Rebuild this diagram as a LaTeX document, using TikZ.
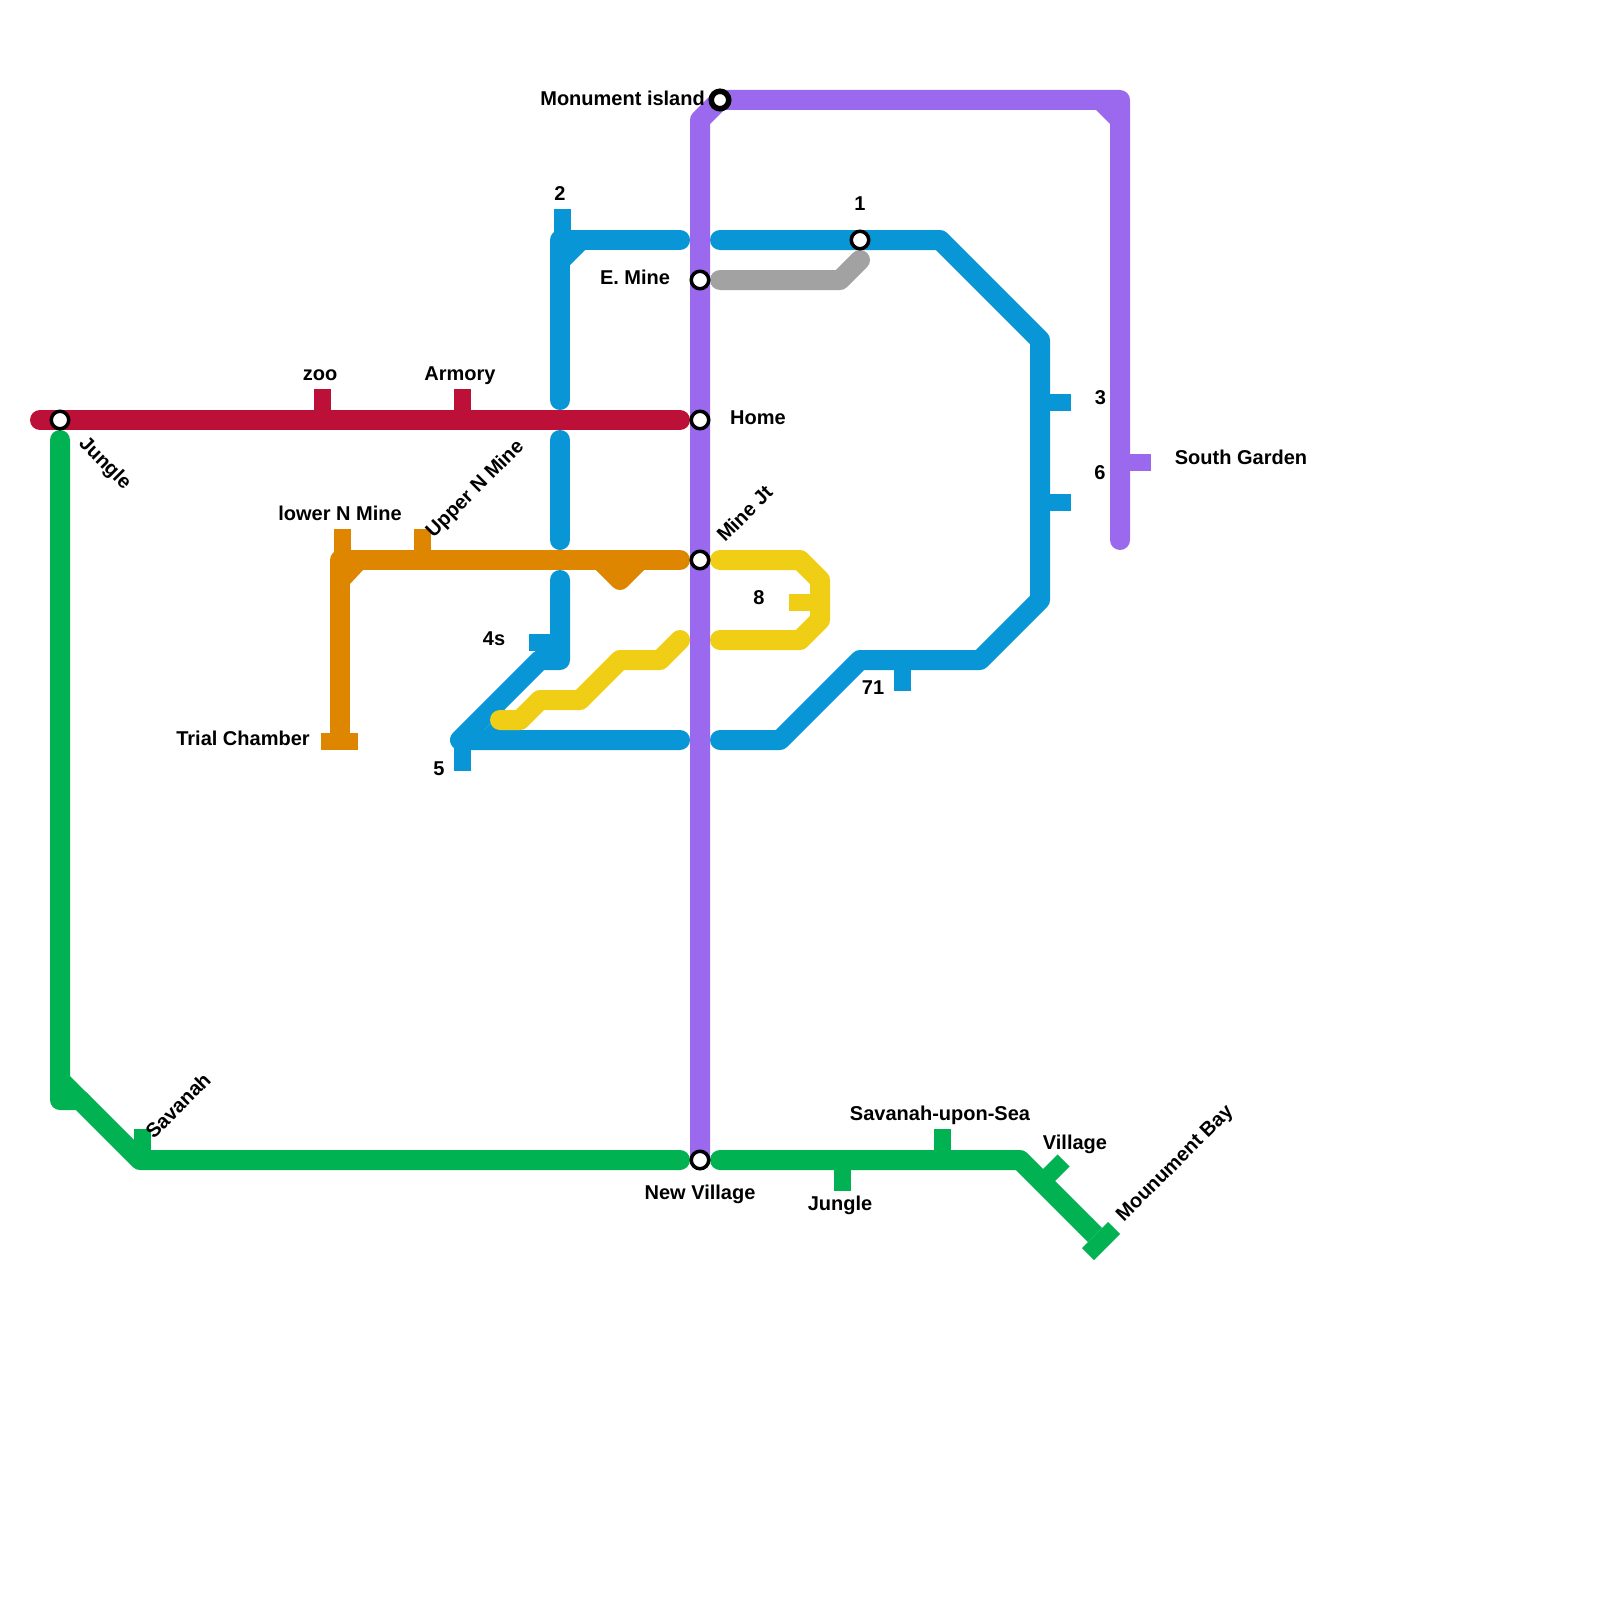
\documentclass[tikz,border=0pt]{standalone}
\usepackage{fontspec}
\setmainfont{Liberation Sans}
\definecolor{cred}{HTML}{BD1038}
\definecolor{cgreen}{HTML}{00B251}
\definecolor{cblue}{HTML}{0896D7}
\definecolor{corange}{HTML}{DF8600}
\definecolor{cyellow}{HTML}{F0CE15}
\definecolor{cpurple}{HTML}{9B69EE}
\definecolor{cgray}{HTML}{A2A2A2}
\tikzset{
  metro/.style={line width=20pt,line cap=round,line join=round},
  stub/.style={line width=17pt,line cap=butt},
  station/.style={circle,draw=black,fill=white,line width=3.5pt,minimum size=17.5pt,inner sep=0pt},
  endstation/.style={circle,draw=black,fill=white,line width=5.5pt,minimum size=17.5pt,inner sep=0pt},
  lbl/.style={font=\bfseries\fontsize{20}{24}\selectfont,inner sep=0pt,text=black}
}
\begin{document}
\begin{tikzpicture}[x=1pt,y=-1pt]
\useasboundingbox[fill=white] (0,0) rectangle (1600,1600);
% red
\draw[metro,cred] (40,420) -- (680,420);
\draw[stub,cred] (322,389) -- (322,420);
\draw[stub,cred] (462,389) -- (462,420);
% blue
\draw[metro,cblue] (680,240) -- (560,240) -- (560,400);
\fill[cblue] (585,250) -- (570,265) -- (570,250) -- cycle;
\draw[stub,cblue] (562,209) -- (562,240);
\draw[metro,cblue] (560,440) -- (560,540);
\draw[metro,cblue] (560,580) -- (560,660) -- (540,660) -- (460,740) -- (680,740);
\fill[cblue] (484,730) -- (505,709) -- (505,730) -- cycle;
\draw[stub,cblue] (529,642) -- (560,642);
\draw[stub,cblue] (462,740) -- (462,771);
\draw[metro,cblue] (720,240) -- (940,240) -- (1040,340) -- (1040,600) -- (980,660) -- (860,660) -- (780,740) -- (720,740);
\draw[stub,cblue] (1040,402) -- (1071,402);
\draw[stub,cblue] (1040,502) -- (1071,502);
\draw[stub,cblue] (902,660) -- (902,691);
% orange
\draw[metro,corange] (340,740) -- (340,560) -- (680,560);
\fill[corange] (363,570) -- (350,584) -- (350,570) -- cycle;
\draw[stub,corange] (342,529) -- (342,560);
\draw[stub,corange] (422,529) -- (422,560);
\draw[stub,corange] (321,741) -- (358,741);
\draw[metro,corange] (600,560) -- (620,580) -- (640,560);
% yellow
\draw[metro,cyellow] (720,560) -- (800,560) -- (820,580) -- (820,620) -- (800,640) -- (720,640);
\draw[stub,cyellow] (789,602) -- (820,602);
\draw[metro,cyellow] (680,640) -- (660,660) -- (620,660) -- (580,700) -- (540,700) -- (520,720) -- (500,720);
% gray
\draw[metro,cgray] (720,280) -- (840,280) -- (860,260);
% green
\draw[metro,cgreen] (60,440) -- (60,1100) -- (80,1100) -- (140,1160) -- (680,1160);
\fill[cgreen] (70,1076) -- (70,1096) -- (90,1096) -- cycle;
\draw[stub,cgreen] (142,1129) -- (142,1160);
\draw[metro,cgreen] (720,1160) -- (1020,1160) -- (1085,1225);
\draw[line width=20pt,cgreen] (1085,1225) -- (1095,1235);
\draw[stub,cgreen] (842,1160) -- (842,1191);
\draw[stub,cgreen] (942,1129) -- (942,1160);
\draw[stub,cgreen] (1042,1182) -- (1063.5,1160.5);
\draw[stub,cgreen] (1088,1254) -- (1114,1228);
% purple
\draw[metro,cpurple] (700,1160) -- (700,120) -- (720,100) -- (1120,100) -- (1120,540);
\fill[cpurple] (1096,110) -- (1110,124) -- (1110,110) -- cycle;
\draw[stub,cpurple] (1120,462) -- (1151,462);
% stations
\node[station] (sJungle) at (60,420) {};
\node[station] (sEMine) at (700,280) {};
\node[station] (sHome) at (700,420) {};
\node[station] (sMineJt) at (700,560) {};
\node[station] (sNewVillage) at (700,1160) {};
\node[station] (sOne) at (860,240) {};
\node[endstation] (sMonument) at (720,100) {};
% labels
\node[lbl,anchor=east] (l1) at (705,98) {Monument island};
\node[lbl] (l2) at (560,193.5) {2};
\node[lbl] (l3) at (860,203.5) {1};
\node[lbl] (l4) at (635,277.5) {E. Mine};
\node[lbl] (l5) at (758,418) {Home};
\node[lbl] (l6) at (320,375) {zoo};
\node[lbl] (l7) at (460,376) {Armory};
\node[lbl] (l8) at (340,513) {lower N Mine};
\node[lbl,rotate=45] (l9) at (475.5,489.5) {Upper N Mine};
\node[lbl,rotate=45] (l10) at (744.5,513.5) {Mine Jt};
\node[lbl] (l11) at (1241,457) {South Garden};
\node[lbl] (l12) at (1100.5,398) {3};
\node[lbl] (l13) at (1100,473) {6};
\node[lbl] (l14) at (759,598) {8};
\node[lbl] (l15) at (494,639) {4s};
\node[lbl] (l16) at (873,688) {71};
\node[lbl] (l17) at (439,769) {5};
\node[lbl] (l18) at (243,738) {Trial Chamber};
\node[lbl,rotate=-45] (l19) at (104.5,464) {Jungle};
\node[lbl,rotate=45] (l20) at (178,1105.5) {Savanah};
\node[lbl] (l21) at (700,1194) {New Village};
\node[lbl] (l22) at (840,1205) {Jungle};
\node[lbl] (l23) at (940,1115) {Savanah-upon-Sea};
\node[lbl] (l24) at (1075,1144) {Village};
\node[lbl,rotate=45] (l25) at (1175.5,1164) {Mounument Bay};
\end{tikzpicture}
\end{document}
